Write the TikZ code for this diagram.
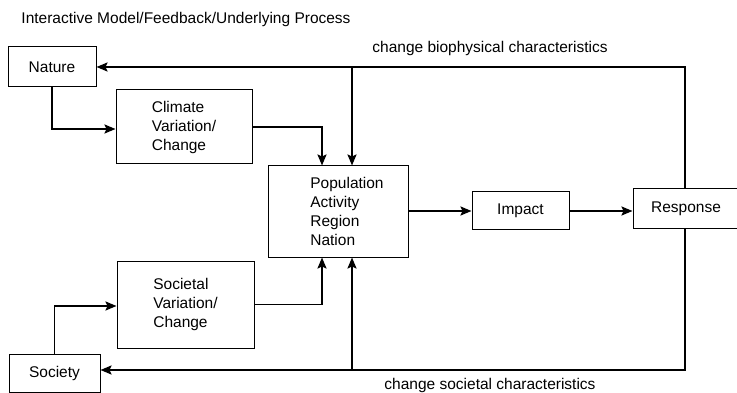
\documentclass[tikz,border=0pt]{standalone}
\usepackage{fontspec}
\setmainfont{Liberation Sans}
\usetikzlibrary{arrows.meta}

\begin{document}
\begin{tikzpicture}[
            x=1pt, y=-1pt,
            every node/.style={font=\fontsize{15.5}{19}\selectfont, inner sep=0pt},
            box node/.style={draw, line width=1pt, align=left},
            link/.style={line width=1.9pt, -{Stealth[length=11pt,width=9pt,inset=2pt]}},
            ]
            \useasboundingbox (0,0) rectangle (737,393);

            \node (title) at (186,19) {Interactive Model/Feedback/Underlying Process};

            \node[box node, minimum width=88, minimum height=40] (nature) at (52,67) {Nature};
            \node[box node, minimum width=136, minimum height=74] (climate) at (184,127) {Climate\\Variation/\\Change};
            \node[box node, minimum width=140, minimum height=91] (pop) at (338,211.5) {};
            \node[align=left] (poptext) at (347,211.5) {Population\\Activity\\Region\\Nation};
            \node[box node, minimum width=97, minimum height=38] (impact) at (520.5,211) {Impact};
            \node[box node, minimum width=106, minimum height=40] (response) at (686,209) {Response};
            \node[box node, minimum width=137, minimum height=87] (societal) at (185.5,304.5) {Societal\\Variation/\\Change};
            \node[box node, minimum width=91, minimum height=38] (society) at (54.5,373) {Society};

            \node (biolabel) at (490,48) {change biophysical characteristics};
            \node (soclabel) at (490,385) {change societal characteristics};

            \coordinate (topj) at (352,67);
            \coordinate (botj) at (352,370);

            \draw[link] ([xshift=-1pt]response.north) |- (nature.east);
            \draw[link] (topj) -- (topj |- pop.north);
            \draw[link] (nature.south) |- ([yshift=-2pt]climate.west);
            \draw[link] (climate.east) -| ([xshift=-16pt]pop.north);
            \draw[link] ([xshift=-1pt]response.south) |- ([yshift=3pt]society.east);
            \draw[link] (botj) -- (botj |- pop.south);
            \draw[link] (society.north) |- ([yshift=-1.5pt]societal.west);
            \draw[link] (societal.east) -| ([xshift=-16pt]pop.south);
            \draw[link] (impact.west -| pop.east) -- (impact.west);
            \draw[link] (impact.east) -- (impact.east -| response.west);
        \end{tikzpicture}
\end{document}
